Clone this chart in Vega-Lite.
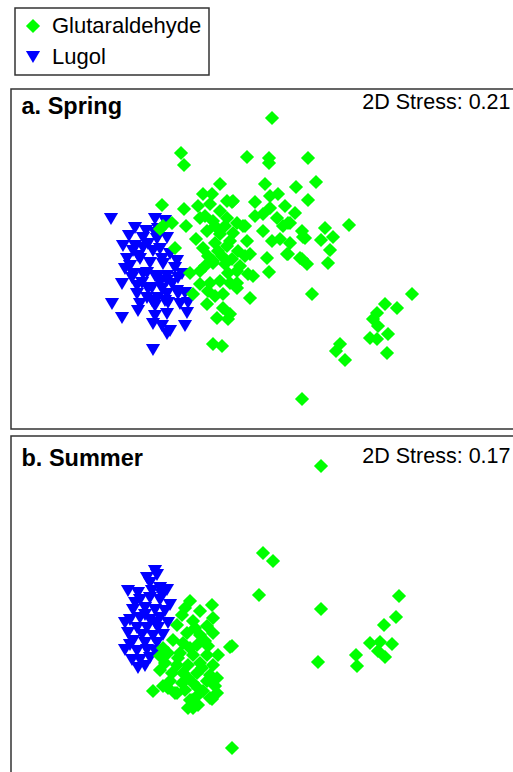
{
  "$schema": "https://vega.github.io/schema/vega-lite/v6.json",
  "background": "white",
  "padding": {"left": 10, "top": 7, "right": 0, "bottom": 0},
  "config": {
    "font": "Liberation Sans",
    "view": {"stroke": "#333333", "strokeWidth": 1.5},
    "axis": {"labels": false, "ticks": false, "domain": false, "grid": false},
    "legend": {
      "orient": "none", "legendX": 4, "legendY": -81, "title": null,
      "strokeColor": "#333333", "strokeWidth": 1.5, "padding": 7, "symbolOffset": 0, "labelOffset": 8,
      "rowPadding": 9, "labelFontSize": 22, "labelFont": "Liberation Sans", "labelColor": "black",
      "symbolSize": 200, "symbolStrokeWidth": 0, "labelLimit": 300
    }
  },
  "datasets": {
    "spring": [
      {"method":"Lugol","x":1.11,"y":-2.18},{"method":"Lugol","x":1.55,"y":-2.18},{"method":"Lugol","x":1.65,"y":-2.20},{"method":"Lugol","x":1.35,"y":-2.27},
      {"method":"Lugol","x":1.29,"y":-2.35},{"method":"Lugol","x":1.43,"y":-2.37},{"method":"Lugol","x":1.57,"y":-2.38},{"method":"Lugol","x":1.67,"y":-2.37},
      {"method":"Lugol","x":1.55,"y":-2.32},{"method":"Lugol","x":1.23,"y":-2.45},{"method":"Lugol","x":1.33,"y":-2.50},{"method":"Lugol","x":1.43,"y":-2.47},
      {"method":"Lugol","x":1.53,"y":-2.50},{"method":"Lugol","x":1.60,"y":-2.48},{"method":"Lugol","x":1.70,"y":-2.53},{"method":"Lugol","x":1.77,"y":-2.60},
      {"method":"Lugol","x":1.40,"y":-2.58},{"method":"Lugol","x":1.50,"y":-2.62},{"method":"Lugol","x":1.63,"y":-2.63},{"method":"Lugol","x":1.75,"y":-2.67},
      {"method":"Lugol","x":1.25,"y":-2.68},{"method":"Lugol","x":1.33,"y":-2.73},{"method":"Lugol","x":1.47,"y":-2.72},{"method":"Lugol","x":1.55,"y":-2.75},
      {"method":"Lugol","x":1.67,"y":-2.75},{"method":"Lugol","x":1.82,"y":-2.73},{"method":"Lugol","x":1.22,"y":-2.83},{"method":"Lugol","x":1.42,"y":-2.82},
      {"method":"Lugol","x":1.52,"y":-2.87},{"method":"Lugol","x":1.60,"y":-2.82},{"method":"Lugol","x":1.72,"y":-2.83},{"method":"Lugol","x":1.37,"y":-2.93},
      {"method":"Lugol","x":1.47,"y":-2.97},{"method":"Lugol","x":1.58,"y":-2.97},{"method":"Lugol","x":1.67,"y":-2.93},{"method":"Lugol","x":1.78,"y":-2.93},
      {"method":"Lugol","x":1.85,"y":-2.92},{"method":"Lugol","x":1.12,"y":-3.03},{"method":"Lugol","x":1.40,"y":-3.03},{"method":"Lugol","x":1.55,"y":-3.05},
      {"method":"Lugol","x":1.68,"y":-3.02},{"method":"Lugol","x":1.80,"y":-3.03},{"method":"Lugol","x":1.88,"y":-3.02},{"method":"Lugol","x":1.22,"y":-3.17},
      {"method":"Lugol","x":1.55,"y":-3.15},{"method":"Lugol","x":1.67,"y":-3.13},{"method":"Lugol","x":1.87,"y":-3.12},{"method":"Lugol","x":1.53,"y":-3.23},
      {"method":"Lugol","x":1.62,"y":-3.25},{"method":"Lugol","x":1.70,"y":-3.30},{"method":"Lugol","x":1.85,"y":-3.25},{"method":"Lugol","x":1.67,"y":-3.33},
      {"method":"Lugol","x":1.53,"y":-3.49},{"method":"Lugol","x":1.38,"y":-2.55},{"method":"Lugol","x":1.48,"y":-2.43},{"method":"Lugol","x":1.27,"y":-2.58},
      {"method":"Lugol","x":1.62,"y":-2.58},{"method":"Lugol","x":1.37,"y":-2.85},{"method":"Lugol","x":1.48,"y":-2.88},{"method":"Lugol","x":1.62,"y":-2.88},
      {"method":"Lugol","x":1.77,"y":-2.90},{"method":"Lugol","x":1.52,"y":-3.00},{"method":"Lugol","x":1.65,"y":-3.00},{"method":"Lugol","x":1.32,"y":-2.77},
      {"method":"Lugol","x":1.43,"y":-2.73},{"method":"Lugol","x":1.57,"y":-2.77},{"method":"Lugol","x":1.67,"y":-2.80},{"method":"Lugol","x":1.78,"y":-2.77},
      {"method":"Lugol","x":1.35,"y":-2.45},{"method":"Lugol","x":1.58,"y":-2.28},{"method":"Lugol","x":1.46,"y":-2.30},{"method":"Lugol","x":1.30,"y":-2.65},
      {"method":"Lugol","x":1.38,"y":-3.10},
      {"method":"Glutaraldehyde","x":2.72,"y":-1.17},{"method":"Glutaraldehyde","x":1.81,"y":-1.52},{"method":"Glutaraldehyde","x":1.84,"y":-1.64},{"method":"Glutaraldehyde","x":2.47,"y":-1.56},
      {"method":"Glutaraldehyde","x":2.69,"y":-1.57},{"method":"Glutaraldehyde","x":2.69,"y":-1.62},{"method":"Glutaraldehyde","x":3.08,"y":-1.57},{"method":"Glutaraldehyde","x":2.20,"y":-1.83},
      {"method":"Glutaraldehyde","x":2.65,"y":-1.83},{"method":"Glutaraldehyde","x":2.96,"y":-1.86},{"method":"Glutaraldehyde","x":3.16,"y":-1.81},{"method":"Glutaraldehyde","x":3.08,"y":-1.99},
      {"method":"Glutaraldehyde","x":1.62,"y":-2.04},{"method":"Glutaraldehyde","x":1.84,"y":-2.08},{"method":"Glutaraldehyde","x":2.03,"y":-1.93},{"method":"Glutaraldehyde","x":2.12,"y":-1.93},
      {"method":"Glutaraldehyde","x":2.32,"y":-2.01},{"method":"Glutaraldehyde","x":2.55,"y":-2.01},{"method":"Glutaraldehyde","x":2.70,"y":-1.95},{"method":"Glutaraldehyde","x":2.78,"y":-1.93},
      {"method":"Glutaraldehyde","x":3.49,"y":-2.24},{"method":"Glutaraldehyde","x":3.25,"y":-2.27},{"method":"Glutaraldehyde","x":3.33,"y":-2.36},{"method":"Glutaraldehyde","x":3.21,"y":-2.39},
      {"method":"Glutaraldehyde","x":3.30,"y":-2.49},{"method":"Glutaraldehyde","x":3.28,"y":-2.62},{"method":"Glutaraldehyde","x":3.03,"y":-2.36},{"method":"Glutaraldehyde","x":2.88,"y":-2.22},
      {"method":"Glutaraldehyde","x":2.72,"y":-2.40},{"method":"Glutaraldehyde","x":2.87,"y":-2.53},{"method":"Glutaraldehyde","x":3.02,"y":-2.58},{"method":"Glutaraldehyde","x":2.67,"y":-2.57},
      {"method":"Glutaraldehyde","x":2.47,"y":-2.40},{"method":"Glutaraldehyde","x":2.50,"y":-2.53},{"method":"Glutaraldehyde","x":2.13,"y":-2.60},{"method":"Glutaraldehyde","x":1.86,"y":-2.25},
      {"method":"Glutaraldehyde","x":1.75,"y":-2.47},{"method":"Glutaraldehyde","x":1.63,"y":-2.25},{"method":"Glutaraldehyde","x":1.60,"y":-2.28},{"method":"Glutaraldehyde","x":1.72,"y":-2.22},
      {"method":"Glutaraldehyde","x":2.00,"y":-2.17},{"method":"Glutaraldehyde","x":2.13,"y":-2.20},{"method":"Glutaraldehyde","x":2.27,"y":-2.17},{"method":"Glutaraldehyde","x":2.37,"y":-2.22},
      {"method":"Glutaraldehyde","x":2.43,"y":-2.25},{"method":"Glutaraldehyde","x":2.07,"y":-2.30},{"method":"Glutaraldehyde","x":2.20,"y":-2.33},{"method":"Glutaraldehyde","x":2.33,"y":-2.32},
      {"method":"Glutaraldehyde","x":2.03,"y":-2.47},{"method":"Glutaraldehyde","x":2.15,"y":-2.42},{"method":"Glutaraldehyde","x":2.27,"y":-2.45},{"method":"Glutaraldehyde","x":2.38,"y":-2.50},
      {"method":"Glutaraldehyde","x":2.13,"y":-2.62},{"method":"Glutaraldehyde","x":2.25,"y":-2.63},{"method":"Glutaraldehyde","x":1.90,"y":-2.72},{"method":"Glutaraldehyde","x":2.00,"y":-2.70},
      {"method":"Glutaraldehyde","x":2.37,"y":-2.70},{"method":"Glutaraldehyde","x":2.53,"y":-2.75},{"method":"Glutaraldehyde","x":2.00,"y":-2.83},{"method":"Glutaraldehyde","x":2.10,"y":-2.82},
      {"method":"Glutaraldehyde","x":2.20,"y":-2.80},{"method":"Glutaraldehyde","x":2.30,"y":-2.82},{"method":"Glutaraldehyde","x":2.37,"y":-2.87},{"method":"Glutaraldehyde","x":1.93,"y":-2.93},
      {"method":"Glutaraldehyde","x":2.08,"y":-2.90},{"method":"Glutaraldehyde","x":2.23,"y":-2.93},{"method":"Glutaraldehyde","x":2.50,"y":-2.97},{"method":"Glutaraldehyde","x":2.07,"y":-3.03},
      {"method":"Glutaraldehyde","x":2.23,"y":-3.07},{"method":"Glutaraldehyde","x":2.30,"y":-3.13},{"method":"Glutaraldehyde","x":2.17,"y":-3.17},{"method":"Glutaraldehyde","x":2.28,"y":-3.18},
      {"method":"Glutaraldehyde","x":2.13,"y":-3.43},{"method":"Glutaraldehyde","x":2.22,"y":-3.45},{"method":"Glutaraldehyde","x":2.69,"y":-2.71},{"method":"Glutaraldehyde","x":3.07,"y":-2.63},
      {"method":"Glutaraldehyde","x":3.12,"y":-2.93},{"method":"Glutaraldehyde","x":4.12,"y":-2.93},{"method":"Glutaraldehyde","x":3.85,"y":-3.03},{"method":"Glutaraldehyde","x":3.97,"y":-3.07},
      {"method":"Glutaraldehyde","x":3.77,"y":-3.12},{"method":"Glutaraldehyde","x":3.73,"y":-3.18},{"method":"Glutaraldehyde","x":3.78,"y":-3.25},{"method":"Glutaraldehyde","x":3.88,"y":-3.33},
      {"method":"Glutaraldehyde","x":3.70,"y":-3.37},{"method":"Glutaraldehyde","x":3.77,"y":-3.38},{"method":"Glutaraldehyde","x":3.87,"y":-3.52},{"method":"Glutaraldehyde","x":3.40,"y":-3.43},
      {"method":"Glutaraldehyde","x":3.36,"y":-3.50},{"method":"Glutaraldehyde","x":3.45,"y":-3.59},{"method":"Glutaraldehyde","x":3.02,"y":-3.98},{"method":"Glutaraldehyde","x":2.33,"y":-2.00},
      {"method":"Glutaraldehyde","x":2.45,"y":-2.25},{"method":"Glutaraldehyde","x":2.45,"y":-2.55},{"method":"Glutaraldehyde","x":2.48,"y":-2.73},{"method":"Glutaraldehyde","x":2.37,"y":-2.82},
      {"method":"Glutaraldehyde","x":2.63,"y":-2.13},{"method":"Glutaraldehyde","x":2.77,"y":-2.17},{"method":"Glutaraldehyde","x":2.90,"y":-2.22},{"method":"Glutaraldehyde","x":2.83,"y":-2.25},
      {"method":"Glutaraldehyde","x":3.02,"y":-2.30},{"method":"Glutaraldehyde","x":3.05,"y":-2.37},{"method":"Glutaraldehyde","x":2.90,"y":-2.42},{"method":"Glutaraldehyde","x":2.88,"y":-2.53},
      {"method":"Glutaraldehyde","x":3.00,"y":-2.57},{"method":"Glutaraldehyde","x":2.70,"y":-2.07},{"method":"Glutaraldehyde","x":2.10,"y":-2.03},{"method":"Glutaraldehyde","x":2.27,"y":-2.00},
      {"method":"Glutaraldehyde","x":2.20,"y":-2.10},{"method":"Glutaraldehyde","x":2.15,"y":-2.25},{"method":"Glutaraldehyde","x":2.25,"y":-2.25},{"method":"Glutaraldehyde","x":2.05,"y":-2.15},
      {"method":"Glutaraldehyde","x":2.30,"y":-2.40},{"method":"Glutaraldehyde","x":2.18,"y":-2.50},{"method":"Glutaraldehyde","x":2.08,"y":-2.55},{"method":"Glutaraldehyde","x":2.22,"y":-2.55},
      {"method":"Glutaraldehyde","x":2.40,"y":-2.65},{"method":"Glutaraldehyde","x":2.28,"y":-2.72},{"method":"Glutaraldehyde","x":1.96,"y":-2.38},{"method":"Glutaraldehyde","x":2.05,"y":-2.65},
      {"method":"Glutaraldehyde","x":2.32,"y":-2.58},{"method":"Glutaraldehyde","x":2.15,"y":-2.95},{"method":"Glutaraldehyde","x":1.98,"y":-2.05},{"method":"Glutaraldehyde","x":2.55,"y":-2.15},
      {"method":"Glutaraldehyde","x":2.63,"y":-2.30},{"method":"Glutaraldehyde","x":2.80,"y":-2.38},{"method":"Glutaraldehyde","x":2.95,"y":-2.12},{"method":"Glutaraldehyde","x":2.85,"y":-2.05}
    ],
    "summer": [
      {"method":"Lugol","x":1.55,"y":-5.68},{"method":"Lugol","x":1.47,"y":-5.75},{"method":"Lugol","x":1.50,"y":-5.80},{"method":"Lugol","x":1.28,"y":-5.88},
      {"method":"Lugol","x":1.67,"y":-5.87},{"method":"Lugol","x":1.60,"y":-5.85},{"method":"Lugol","x":1.40,"y":-5.97},{"method":"Lugol","x":1.50,"y":-5.95},
      {"method":"Lugol","x":1.60,"y":-5.97},{"method":"Lugol","x":1.70,"y":-6.02},{"method":"Lugol","x":1.33,"y":-6.07},{"method":"Lugol","x":1.45,"y":-6.05},
      {"method":"Lugol","x":1.55,"y":-6.07},{"method":"Lugol","x":1.65,"y":-6.08},{"method":"Lugol","x":1.30,"y":-6.17},{"method":"Lugol","x":1.40,"y":-6.15},
      {"method":"Lugol","x":1.50,"y":-6.17},{"method":"Lugol","x":1.60,"y":-6.15},{"method":"Lugol","x":1.37,"y":-6.25},{"method":"Lugol","x":1.47,"y":-6.25},
      {"method":"Lugol","x":1.58,"y":-6.25},{"method":"Lugol","x":1.28,"y":-6.30},{"method":"Lugol","x":1.42,"y":-6.32},{"method":"Lugol","x":1.53,"y":-6.33},
      {"method":"Lugol","x":1.63,"y":-6.32},{"method":"Lugol","x":1.33,"y":-6.38},{"method":"Lugol","x":1.45,"y":-6.40},{"method":"Lugol","x":1.57,"y":-6.40},
      {"method":"Lugol","x":1.25,"y":-6.47},{"method":"Lugol","x":1.37,"y":-6.48},{"method":"Lugol","x":1.47,"y":-6.47},{"method":"Lugol","x":1.55,"y":-6.48},
      {"method":"Lugol","x":1.32,"y":-6.57},{"method":"Lugol","x":1.40,"y":-6.57},{"method":"Lugol","x":1.50,"y":-6.55},{"method":"Lugol","x":1.38,"y":-6.65},
      {"method":"Lugol","x":1.45,"y":-6.63},{"method":"Lugol","x":1.57,"y":-5.72},{"method":"Lugol","x":1.52,"y":-5.88},{"method":"Lugol","x":1.38,"y":-5.90},
      {"method":"Lugol","x":1.62,"y":-5.92},{"method":"Lugol","x":1.25,"y":-6.20},{"method":"Lugol","x":1.68,"y":-6.20},{"method":"Lugol","x":1.35,"y":-6.00},
      {"method":"Lugol","x":1.45,"y":-6.12},{"method":"Lugol","x":1.55,"y":-6.20},{"method":"Lugol","x":1.30,"y":-6.42},{"method":"Lugol","x":1.60,"y":-6.50},
      {"method":"Glutaraldehyde","x":3.21,"y":-4.63},{"method":"Glutaraldehyde","x":2.63,"y":-5.50},{"method":"Glutaraldehyde","x":2.73,"y":-5.58},{"method":"Glutaraldehyde","x":2.59,"y":-5.92},
      {"method":"Glutaraldehyde","x":3.21,"y":-6.06},{"method":"Glutaraldehyde","x":3.99,"y":-5.93},{"method":"Glutaraldehyde","x":3.96,"y":-6.14},{"method":"Glutaraldehyde","x":3.84,"y":-6.22},
      {"method":"Glutaraldehyde","x":3.70,"y":-6.40},{"method":"Glutaraldehyde","x":3.80,"y":-6.39},{"method":"Glutaraldehyde","x":3.92,"y":-6.41},{"method":"Glutaraldehyde","x":3.78,"y":-6.48},
      {"method":"Glutaraldehyde","x":3.85,"y":-6.54},{"method":"Glutaraldehyde","x":3.56,"y":-6.52},{"method":"Glutaraldehyde","x":3.57,"y":-6.63},{"method":"Glutaraldehyde","x":3.18,"y":-6.59},
      {"method":"Glutaraldehyde","x":2.32,"y":-6.43},{"method":"Glutaraldehyde","x":2.32,"y":-7.45},
      {"method":"Glutaraldehyde","x":1.90,"y":-5.98},{"method":"Glutaraldehyde","x":2.12,"y":-6.02},{"method":"Glutaraldehyde","x":2.00,"y":-6.08},{"method":"Glutaraldehyde","x":1.82,"y":-6.12},
      {"method":"Glutaraldehyde","x":2.13,"y":-6.15},{"method":"Glutaraldehyde","x":1.77,"y":-6.22},{"method":"Glutaraldehyde","x":1.93,"y":-6.18},{"method":"Glutaraldehyde","x":2.07,"y":-6.23},
      {"method":"Glutaraldehyde","x":1.87,"y":-6.30},{"method":"Glutaraldehyde","x":2.00,"y":-6.32},{"method":"Glutaraldehyde","x":2.13,"y":-6.30},{"method":"Glutaraldehyde","x":1.73,"y":-6.37},
      {"method":"Glutaraldehyde","x":1.83,"y":-6.40},{"method":"Glutaraldehyde","x":1.97,"y":-6.42},{"method":"Glutaraldehyde","x":2.08,"y":-6.43},{"method":"Glutaraldehyde","x":2.30,"y":-6.44},
      {"method":"Glutaraldehyde","x":1.68,"y":-6.50},{"method":"Glutaraldehyde","x":1.80,"y":-6.50},{"method":"Glutaraldehyde","x":1.93,"y":-6.52},{"method":"Glutaraldehyde","x":2.07,"y":-6.52},
      {"method":"Glutaraldehyde","x":2.18,"y":-6.52},{"method":"Glutaraldehyde","x":1.65,"y":-6.60},{"method":"Glutaraldehyde","x":1.77,"y":-6.62},{"method":"Glutaraldehyde","x":1.88,"y":-6.62},
      {"method":"Glutaraldehyde","x":2.00,"y":-6.60},{"method":"Glutaraldehyde","x":2.13,"y":-6.62},{"method":"Glutaraldehyde","x":1.60,"y":-6.67},{"method":"Glutaraldehyde","x":1.72,"y":-6.70},
      {"method":"Glutaraldehyde","x":1.83,"y":-6.70},{"method":"Glutaraldehyde","x":1.97,"y":-6.70},{"method":"Glutaraldehyde","x":2.10,"y":-6.72},{"method":"Glutaraldehyde","x":2.17,"y":-6.75},
      {"method":"Glutaraldehyde","x":1.70,"y":-6.78},{"method":"Glutaraldehyde","x":1.82,"y":-6.80},{"method":"Glutaraldehyde","x":1.93,"y":-6.80},{"method":"Glutaraldehyde","x":2.07,"y":-6.78},
      {"method":"Glutaraldehyde","x":2.15,"y":-6.83},{"method":"Glutaraldehyde","x":1.53,"y":-6.88},{"method":"Glutaraldehyde","x":1.63,"y":-6.83},{"method":"Glutaraldehyde","x":1.85,"y":-6.87},
      {"method":"Glutaraldehyde","x":1.98,"y":-6.85},{"method":"Glutaraldehyde","x":1.75,"y":-6.90},{"method":"Glutaraldehyde","x":2.17,"y":-6.90},{"method":"Glutaraldehyde","x":1.90,"y":-6.97},
      {"method":"Glutaraldehyde","x":2.10,"y":-6.95},{"method":"Glutaraldehyde","x":1.97,"y":-6.93},{"method":"Glutaraldehyde","x":1.88,"y":-7.05},{"method":"Glutaraldehyde","x":1.98,"y":-7.02},
      {"method":"Glutaraldehyde","x":1.60,"y":-6.53},{"method":"Glutaraldehyde","x":1.63,"y":-6.45},{"method":"Glutaraldehyde","x":1.92,"y":-6.97},{"method":"Glutaraldehyde","x":1.93,"y":-7.05},
      {"method":"Glutaraldehyde","x":2.12,"y":-6.96},{"method":"Glutaraldehyde","x":1.77,"y":-6.90},{"method":"Glutaraldehyde","x":1.85,"y":-6.05},{"method":"Glutaraldehyde","x":1.95,"y":-6.25},
      {"method":"Glutaraldehyde","x":2.05,"y":-6.38},{"method":"Glutaraldehyde","x":1.90,"y":-6.45},{"method":"Glutaraldehyde","x":2.02,"y":-6.65},{"method":"Glutaraldehyde","x":1.78,"y":-6.55},
      {"method":"Glutaraldehyde","x":1.88,"y":-6.75},{"method":"Glutaraldehyde","x":1.68,"y":-6.85},{"method":"Glutaraldehyde","x":2.03,"y":-6.88}
    ]
  },
  "spacing": 5,
  "resolve": {"legend": {"color": "shared", "shape": "shared"}},
  "vconcat": [
    {
      "width": 504,
      "height": 340,
      "data": {"name": "spring"},
      "mark": {"type": "point", "filled": true, "opacity": 1, "size": 200, "strokeWidth": 0},
      "encoding": {
        "x": {"field": "x", "type": "quantitative", "scale": {"domain": [0.11, 5.15], "nice": false, "zero": false},
          "axis": {"orient": "top", "title": "2D Stress: 0.21", "titleX": 499, "titleY": 19, "titleAlign": "right", "titleBaseline": "alphabetic", "titleFontSize": 21.5, "titleFontWeight": "normal", "titleColor": "black", "titleFont": "Liberation Sans"}},
        "y": {"field": "y", "type": "quantitative", "scale": {"domain": [-4.28, -0.88], "nice": false, "zero": false},
          "axis": {"orient": "left", "title": "a. Spring", "titleAngle": 0, "titleX": 10, "titleY": 24, "titleAlign": "left", "titleBaseline": "alphabetic", "titleFontSize": 23.5, "titleFontWeight": "bold", "titleColor": "black", "titleFont": "Liberation Sans"}},
        "color": {"field": "method", "type": "nominal", "scale": {"domain": ["Glutaraldehyde", "Lugol"], "range": ["#00ff00", "#0000ff"]},
          "legend": {"labelExpr": "datum.label + '\u00a0\u00a0\u00a0'", "labelLimit": 300}},
        "shape": {"field": "method", "type": "nominal", "scale": {"domain": ["Glutaraldehyde", "Lugol"], "range": ["diamond", "triangle-down"]},
          "legend": {"labelExpr": "datum.label + '\u00a0\u00a0\u00a0'", "labelLimit": 300}}
      }
    },
    {
      "width": 504,
      "height": 337,
      "data": {"name": "summer"},
      "mark": {"type": "point", "filled": true, "opacity": 1, "size": 200, "strokeWidth": 0},
      "encoding": {
        "x": {"field": "x", "type": "quantitative", "scale": {"domain": [0.11, 5.15], "nice": false, "zero": false},
          "axis": {"orient": "top", "title": "2D Stress: 0.17", "titleX": 499, "titleY": 26, "titleAlign": "right", "titleBaseline": "alphabetic", "titleFontSize": 21.5, "titleFontWeight": "normal", "titleColor": "black", "titleFont": "Liberation Sans"}},
        "y": {"field": "y", "type": "quantitative", "scale": {"domain": [-7.70, -4.33], "nice": false, "zero": false},
          "axis": {"orient": "left", "title": "b. Summer", "titleAngle": 0, "titleX": 10, "titleY": 29, "titleAlign": "left", "titleBaseline": "alphabetic", "titleFontSize": 23.5, "titleFontWeight": "bold", "titleColor": "black", "titleFont": "Liberation Sans"}},
        "color": {"field": "method", "type": "nominal", "scale": {"domain": ["Glutaraldehyde", "Lugol"], "range": ["#00ff00", "#0000ff"]},
          "legend": {"labelExpr": "datum.label + '\u00a0\u00a0\u00a0'", "labelLimit": 300}},
        "shape": {"field": "method", "type": "nominal", "scale": {"domain": ["Glutaraldehyde", "Lugol"], "range": ["diamond", "triangle-down"]},
          "legend": {"labelExpr": "datum.label + '\u00a0\u00a0\u00a0'", "labelLimit": 300}}
      }
    }
  ]
}
